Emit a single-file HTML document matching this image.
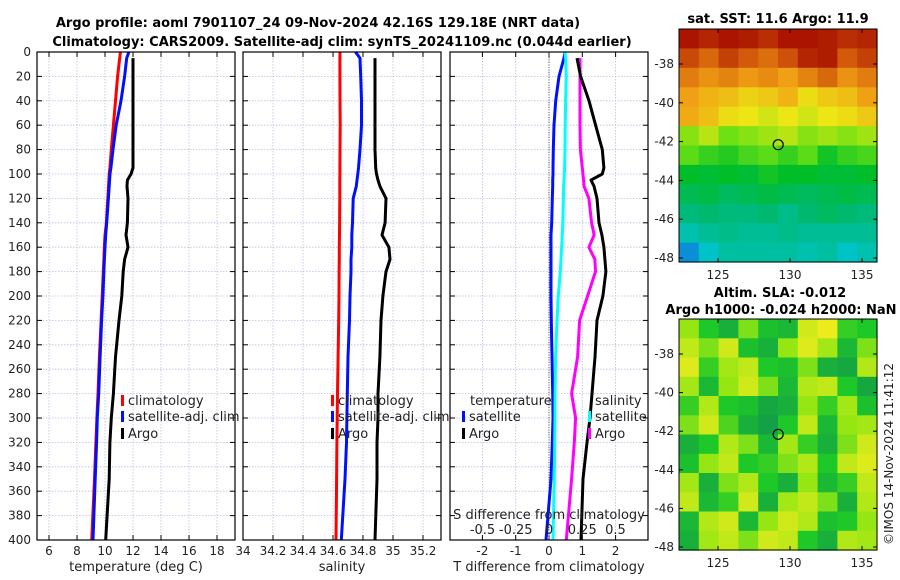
<!DOCTYPE html>
<html><head><meta charset="utf-8"><style>
html,body{margin:0;background:#fff;overflow:hidden;width:900px;height:580px}
svg{font-family:"DejaVu Sans","Liberation Sans",sans-serif;display:block}
</style></head><body>
<svg id="c" width="900" height="580" viewBox="0 0 900 580">
<text x="318" y="27" font-size="13" font-weight="bold" text-anchor="middle">Argo profile: aoml 7901107_24 09-Nov-2024 42.16S 129.18E (NRT data)</text>
<text x="342" y="46" font-size="13" font-weight="bold" text-anchor="middle">Climatology: CARS2009. Satellite-adj clim: synTS_20241109.nc (0.044d earlier)</text>
<text x="778" y="23" font-size="13" font-weight="bold" text-anchor="middle">sat. SST: 11.6 Argo: 11.9</text>
<text x="780" y="297" font-size="13" font-weight="bold" text-anchor="middle">Altim. SLA: -0.012</text>
<text x="781" y="314" font-size="13" font-weight="bold" text-anchor="middle">Argo h1000: -0.024 h2000: NaN</text>
<text transform="translate(893,545) rotate(-90)" font-size="12" fill="#222">©IMOS 14-Nov-2024 11:41:12</text>
<g id="g"></g>
</svg>
<script>
const depths=[0,5,20,40,60,80,95,100,105,110,120,140,150,160,170,180,200,220,250,280,300,320,350,400];
const tClim=[11.1,11.05,10.9,10.75,10.6,10.45,10.35,10.3,10.28,10.25,10.2,10.1,10.0,9.95,9.92,9.88,9.8,9.72,9.6,9.5,9.42,9.35,9.25,9.05];
const tSat=[11.71,11.55,11.4,11.14,10.8,10.57,10.42,10.36,10.33,10.3,10.24,10.12,10.05,10.0,9.96,9.92,9.85,9.76,9.65,9.55,9.45,9.4,9.3,9.14];
const tArgo=[null,12.0,12.0,12.0,12.0,12.0,12.0,11.86,11.6,11.57,11.64,11.6,11.5,11.64,11.4,11.3,11.2,11.0,10.75,10.6,10.45,10.35,10.3,10.05];
const sClim=[34.647,34.646,34.646,34.647,34.648,34.647,34.646,34.646,34.645,34.645,34.645,34.644,34.643,34.642,34.642,34.641,34.64,34.638,34.634,34.63,34.628,34.626,34.624,34.62];
const sSat=[34.75,34.78,34.785,34.79,34.79,34.78,34.77,34.765,34.76,34.755,34.735,34.73,34.725,34.725,34.72,34.72,34.713,34.71,34.7,34.695,34.693,34.69,34.68,34.655];
const sArgo=[null,34.88,34.88,34.88,34.88,34.88,34.885,34.89,34.9,34.913,34.953,34.947,34.927,34.973,34.98,34.953,34.933,34.92,34.913,34.9,34.9,34.893,34.893,34.88];
const dTSat=[0.48,0.45,0.3,0.2,0.15,0.13,0.12,0.12,0.11,0.11,0.1,0.08,0.06,0.06,0.06,0.06,0.06,0.07,0.09,0.11,0.12,0.1,0.06,-0.09];
const dTArgo=[null,0.84,0.95,1.2,1.4,1.6,1.65,1.6,1.26,1.35,1.44,1.5,1.59,1.65,1.68,1.71,1.62,1.44,1.38,1.29,1.23,1.14,1.02,0.96];
const dSSat=[0.12,0.125,0.13,0.125,0.122,0.12,0.117,0.115,0.113,0.11,0.108,0.104,0.1,0.095,0.09,0.085,0.07,0.06,0.05,0.046,0.045,0.043,0.04,0.03];
const dSArgo=[null,0.233,0.233,0.233,0.233,0.236,0.25,0.255,0.26,0.263,0.3,0.32,0.34,0.3,0.345,0.35,0.29,0.23,0.215,0.17,0.2,0.19,0.17,0.13];
const tTicks=[6,8,10,12,14,16,18];
const sTicks=[34,34.2,34.4,34.6,34.8,35,35.2];
const dTTicks=[-2,-1,0,1,2];
const dSTicks=[-0.5,-0.25,0,0.25,0.5];
const dSLabels=['-0.5','-0.25','0','0.25','0.5'];
const depthTicks=[0,20,40,60,80,100,120,140,160,180,200,220,240,260,280,300,320,340,360,380,400];
const sstGrid=[
[14.8,14.6,14.9,14.7,14.5,14.8,14.9,14.7,14.5,14.6],
[14.2,13.8,14.3,14.0,13.7,14.1,14.6,14.7,14.0,14.3],
[13.5,13.2,13.4,13.1,13.3,13.0,13.4,13.8,13.2,13.5],
[13.0,12.8,12.7,12.5,12.6,12.8,12.4,12.6,12.7,13.0],
[12.9,12.7,12.4,12.3,12.2,12.3,12.2,12.3,12.4,12.6],
[11.9,12.1,11.8,11.9,12.0,12.1,11.9,12.0,11.9,12.0],
[11.7,11.5,11.4,11.6,11.7,11.5,11.7,11.3,11.5,11.6],
[11.2,11.1,11.2,11.1,11.3,11.2,11.2,11.1,11.1,11.2],
[10.9,11.0,10.8,10.9,11.0,10.9,10.8,10.9,11.0,10.9],
[10.6,10.7,10.6,10.6,10.7,10.5,10.7,10.8,10.7,10.6],
[10.2,10.4,10.5,10.4,10.4,10.5,10.4,10.4,10.4,10.4],
[9.5,10.0,10.3,10.3,10.3,10.3,10.2,10.3,10.0,10.2]];
const slaGrid=[
[0.02,-0.03,-0.06,0.01,-0.04,-0.05,0.06,0.08,-0.02,-0.03],
[0.05,0.01,0.06,-0.04,-0.06,0.02,0.07,0.03,-0.05,0.01],
[0.07,-0.02,0.03,0.05,-0.03,-0.04,0.01,-0.06,-0.07,0.04],
[0.03,-0.05,0.02,0.06,0.01,-0.05,0.04,0.05,-0.03,-0.07],
[-0.02,0.04,-0.03,-0.04,-0.07,-0.06,0.02,-0.02,0.03,-0.04],
[0.01,0.06,-0.01,-0.06,-0.08,-0.03,0.05,-0.05,0.02,0.03],
[-0.06,-0.03,0.04,0.01,-0.05,0.03,-0.02,-0.06,0.01,0.06],
[-0.04,0.02,0.05,-0.03,-0.02,0.01,0.04,-0.03,0.05,0.07],
[0.03,-0.06,0.01,0.04,-0.03,-0.06,0.02,-0.05,-0.02,0.05],
[0.05,-0.05,-0.02,0.06,-0.06,0.03,0.05,0.01,-0.06,0.04],
[-0.05,0.04,0.06,-0.05,0.02,0.06,0.04,-0.04,-0.03,0.02],
[-0.06,0.03,0.05,0.01,0.06,0.05,-0.03,-0.06,0.04,0.03]];
const lonTicks=[125,130,135];
const latTicks=[-38,-40,-42,-44,-46,-48];
const argoLon=129.18, argoLat=-42.16;

const NS='http://www.w3.org/2000/svg';
const G=document.getElementById('g');
function mk(t,a,p){const e=document.createElementNS(NS,t);for(const k in a)e.setAttribute(k,a[k]);(p||G).appendChild(e);return e;}
const yD=d=>52+d*1.22;
const panels=[
 {x0:37,x1:235,f:v=>49+(v-6)*14,ticks:tTicks,lab:tTicks.map(String),xl:'temperature (deg C)',name:'temperature'},
 {x0:243,x1:441,f:v=>243+(v-34)*150,ticks:sTicks,lab:sTicks.map(String),xl:'salinity',name:'salinity'},
 {x0:450,x1:648,f:v=>549+v*33.3,ticks:dTTicks,lab:dTTicks.map(String),xl:'T difference from climatology',name:'difference'}];
const fS=v=>549+v*133;
panels.forEach((p,pi)=>{
  p.ticks.forEach((t,i)=>{
    const x=p.f(t);
    let l=mk('line',{x1:x,x2:x,y1:52,y2:540,stroke:'#b8c0e0','stroke-width':0.8,'stroke-dasharray':'1.5,1.5'});
    
    mk('line',{x1:x,x2:x,y1:540,y2:535,stroke:'#000'});mk('line',{x1:x,x2:x,y1:52,y2:57,stroke:'#000'});
    let tx=mk('text',{x:x,y:555,'font-size':12,'text-anchor':'middle',fill:'#222'});tx.textContent=p.lab[i];
    
  });
  depthTicks.forEach(d=>{
    const y=yD(d);
    let l=mk('line',{x1:p.x0,x2:p.x1,y1:y,y2:y,stroke:'#b8c0e0','stroke-width':0.8,'stroke-dasharray':'1.5,1.5'});
    
    mk('line',{x1:p.x0,x2:p.x0+5,y1:y,y2:y,stroke:'#000'});mk('line',{x1:p.x1,x2:p.x1-5,y1:y,y2:y,stroke:'#000'});
    if(pi==0){let tx=mk('text',{x:31,y:y+4,'font-size':12,'text-anchor':'end',fill:'#222'});tx.textContent=d;
      }
  });
  let xt=mk('text',{x:(p.x0+p.x1)/2,y:571,'font-size':13,'text-anchor':'middle',fill:'#222'});xt.textContent=p.xl;
  
});
let zl=mk('line',{x1:549,x2:549,y1:52,y2:540,stroke:'#555','stroke-width':1,'stroke-dasharray':'1,1.5'});

function line(vals,f,col,name,w){
  let pts=[];vals.forEach((v,i)=>{if(v!==null)pts.push(f(v).toFixed(1)+','+yD(depths[i]).toFixed(1));});
  let e=mk('polyline',{points:pts.join(' '),fill:'none',stroke:col,'stroke-width':w||3,'stroke-linejoin':'round'});
  
}
const P=panels;
line(tClim,P[0].f,'#ff0000','temperature-climatology-line');
line(tSat,P[0].f,'#0010ff','temperature-satellite-line');
line(tArgo,P[0].f,'#000','temperature-argo-line');
line(sClim,P[1].f,'#ff0000','salinity-climatology-line');
line(sSat,P[1].f,'#0010ff','salinity-satellite-line');
line(sArgo,P[1].f,'#000','salinity-argo-line');
line(dTSat,P[2].f,'#0010ff','t-diff-satellite-line');
line(dSSat,fS,'#00ffff','s-diff-satellite-line');
line(dSArgo,fS,'#ff00ff','s-diff-argo-line');
line(dTArgo,P[2].f,'#000','t-diff-argo-line');
panels.forEach(p=>{let r=mk('rect',{x:p.x0,y:52,width:p.x1-p.x0,height:488,fill:'none',stroke:'#000','stroke-width':1.2});
  });
function leg(x,y,col,txt,name){
  if(col){let m=mk('rect',{x:x,y:y-10,width:3,height:11,fill:col});}
  let t=mk('text',{x:x+7,y:y,'font-size':13,fill:'#222'});t.textContent=txt;
  
}
leg(121,405,'#ff0000','climatology','temp-legend-climatology');
leg(121,421,'#0010ff','satellite-adj. clim','temp-legend-satellite');
leg(121,438,'#000','Argo','temp-legend-argo');
leg(331,405,'#ff0000','climatology','sal-legend-climatology');
leg(331,421,'#0010ff','satellite-adj. clim','sal-legend-satellite');
leg(331,438,'#000','Argo','sal-legend-argo');
leg(463,405,null,'temperature','diff-legend-temperature');
leg(462,421,'#0010ff','satellite','diff-legend-t-satellite');
leg(462,438,'#000','Argo','diff-legend-t-argo');
leg(588,405,null,'salinity','diff-legend-salinity');
leg(588,421,'#00ffff','satellite','diff-legend-s-satellite');
leg(588,438,'#ff00ff','Argo','diff-legend-s-argo');
let st=mk('text',{x:549,y:519,'font-size':13,'text-anchor':'middle',fill:'#222'});st.textContent='S difference from climatology';

dSTicks.forEach((t,i)=>{let tx=mk('text',{x:fS(t),y:534,'font-size':13,'text-anchor':'middle',fill:'#222'});tx.textContent=dSLabels[i];
  });
function lerpC(stops,v){
  if(v<=stops[0][0])return stops[0][1];
  for(let i=1;i<stops.length;i++){if(v<=stops[i][0]){const a=stops[i-1],b=stops[i],t=(v-a[0])/(b[0]-a[0]);
    return a[1].map((c,k)=>Math.round(c+(b[1][k]-c)*t));}}
  return stops[stops.length-1][1];
}
const sstStops=[[9,[20,90,230]],[10,[0,195,200]],[10.7,[0,185,110]],[11.2,[0,190,40]],[11.8,[110,225,20]],[12.3,[235,230,20]],[13,[240,160,20]],[14,[210,90,10]],[14.8,[170,20,0]]];
const slaStops=[[-0.08,[20,160,70]],[-0.03,[30,200,40]],[0.02,[150,230,20]],[0.08,[235,235,30]]];
function map(y0,y1,lat0,latStep,grid,stops,name){
  const x0=679,x1=877,lonF=v=>718+(v-125)*14.4,latF=v=>lat0+(-38-v)*latStep;
  const rows=grid.length,cols=grid[0].length,cw=(x1-x0)/cols,ch=(y1-y0)/rows;
  grid.forEach((r,i)=>r.forEach((v,j)=>{const c=lerpC(stops,v);
    let e=mk('rect',{x:(x0+j*cw).toFixed(1),y:(y0+i*ch).toFixed(1),width:(cw+0.6).toFixed(1),height:(ch+0.6).toFixed(1),fill:`rgb(${c})`});
    }));
  latTicks.forEach(t=>{const y=latF(t);mk('line',{x1:x0,x2:x0+4,y1:y,y2:y,stroke:'#000'});mk('line',{x1:x1,x2:x1-4,y1:y,y2:y,stroke:'#000'});
    let tx=mk('text',{x:x0-5,y:y+4,'font-size':12,'text-anchor':'end',fill:'#222'});tx.textContent=t;
    });
  lonTicks.forEach(t=>{const x=lonF(t);mk('line',{x1:x,x2:x,y1:y1,y2:y1-4,stroke:'#000'});mk('line',{x1:x,x2:x,y1:y0,y2:y0+4,stroke:'#000'});
    let tx=mk('text',{x:x,y:y1+17,'font-size':12,'text-anchor':'middle',fill:'#222'});tx.textContent=t;
    });
  let c=mk('circle',{cx:lonF(argoLon),cy:latF(argoLat),r:5,fill:'none',stroke:'#000','stroke-width':1.2});
  
  let f=mk('rect',{x:x0,y:y0,width:x1-x0,height:y1-y0,fill:'none',stroke:'#000','stroke-width':1});
  
}
map(29,262,64,19.4,sstGrid,sstStops,'sst-map');
map(319,550,354,19.3,slaGrid,slaStops,'sla-map');
</script>
</body></html>
